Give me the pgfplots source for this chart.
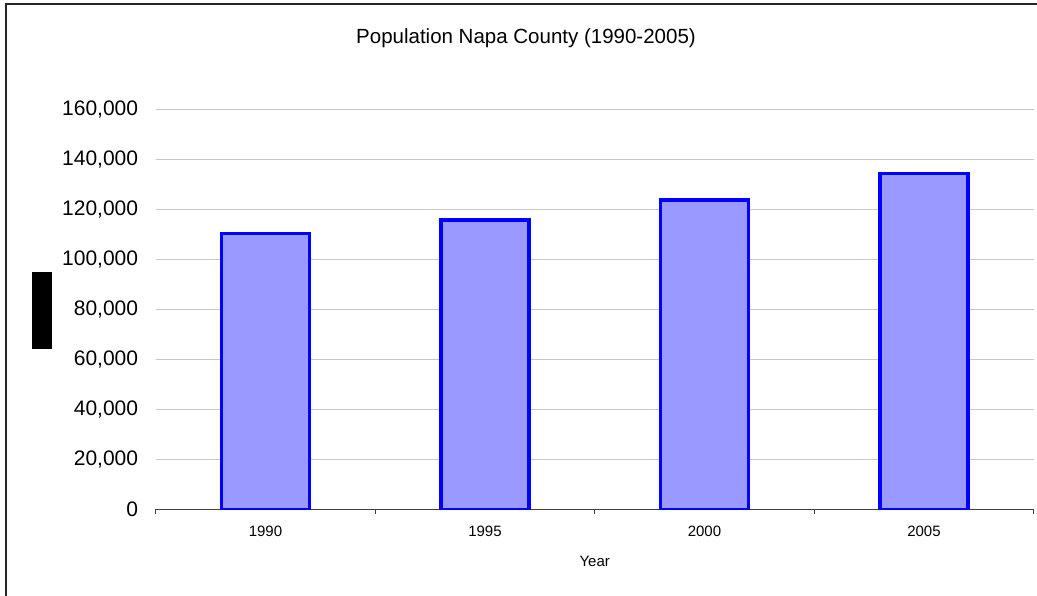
\documentclass[border=0pt]{standalone}
\usepackage{pgfplots}
\pgfplotsset{compat=1.18}
\usepackage{fontspec}
\setmainfont{Liberation Sans}
\definecolor{barfill}{HTML}{9999FF}
\definecolor{barline}{HTML}{0000FF}
\definecolor{gridc}{RGB}{200,200,200}
\definecolor{axisc}{RGB}{64,64,64}
\begin{document}
\begin{tikzpicture}
\useasboundingbox (0pt,0pt) rectangle (1037pt,596pt);
\draw[line width=2pt, color=black!85] (5.8pt,-5pt) -- (5.8pt,592.2pt) -- (1045pt,592.2pt);
\node[anchor=base, font=\fontsize{20.5}{24}\selectfont] at (526pt,552.7pt) {Population Napa County (1990-2005)};
\fill[black] (32pt,247pt) rectangle (52pt,324pt);
\begin{axis}[
  at={(155.7pt,86.7pt)}, anchor=south west,
  scale only axis, width=878pt, height=400pt,
  xmin=-0.5, xmax=3.5, ymin=0, ymax=160000,
  axis x line*=bottom, axis y line*=left,
  y axis line style={draw=none},
  x axis line style={axisc, line width=1.3pt},
  xtick={0,1,2,3}, xticklabels={1990,1995,2000,2005},
  minor xtick={-0.5,0.5,1.5,2.5,3.5},
  major tick length=0pt, minor tick length=5pt,
  tick align=outside,
  xtick style={axisc, line width=1pt},
  minor x tick style={axisc, line width=1pt},
  ytick={0,20000,40000,60000,80000,100000,120000,140000,160000},
  ytick style={draw=none},
  scaled y ticks=false,
  ymajorgrids, major grid style={gridc, line width=1.2pt},
  yticklabel style={anchor=east, inner sep=0pt, xshift=-17.4pt, font=\fontsize{21}{25}\selectfont},
  xticklabel style={anchor=center, inner sep=0pt, yshift=-21.7pt, font=\fontsize{15}{18}\selectfont},
  xlabel={Year},
  xlabel style={at={(axis description cs:0.5,0)}, anchor=center, inner sep=0pt, yshift=-51.7pt, font=\fontsize{15}{18}\selectfont},
  /pgf/number format/fixed,
  /pgf/number format/1000 sep={,},
  /pgf/number format/assume math mode=true,
]
\addplot[ybar, bar width=0.40, fill=barfill, draw=barline, line width=3.3pt]
  coordinates {(0,110200) (1,115700) (2,123700) (3,134200)};
\end{axis}
\end{tikzpicture}
\end{document}
